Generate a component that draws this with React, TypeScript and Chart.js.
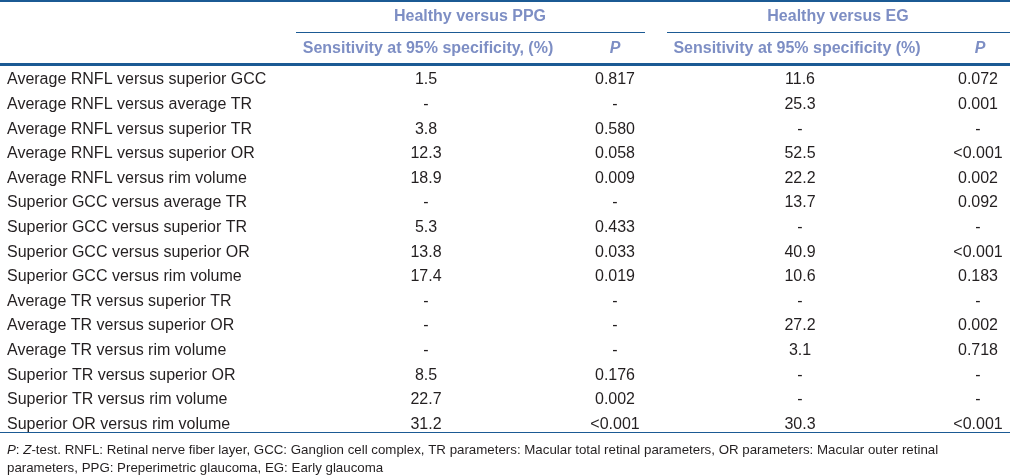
import React, { useEffect, useRef } from "react";
import { Chart, registerables } from "chart.js";

Chart.register(...registerables);

// ---------- data ----------
const rowLabels: string[] = [
  "Average RNFL versus superior GCC",
  "Average RNFL versus average TR",
  "Average RNFL versus superior TR",
  "Average RNFL versus superior OR",
  "Average RNFL versus rim volume",
  "Superior GCC versus average TR",
  "Superior GCC versus superior TR",
  "Superior GCC versus superior OR",
  "Superior GCC versus rim volume",
  "Average TR versus superior TR",
  "Average TR versus superior OR",
  "Average TR versus rim volume",
  "Superior TR versus superior OR",
  "Superior TR versus rim volume",
  "Superior OR versus rim volume",
];

const ppgSensitivity: (number | null)[] = [1.5, null, 3.8, 12.3, 18.9, null, 5.3, 13.8, 17.4, null, null, null, 8.5, 22.7, 31.2];
const ppgP: (string | null)[] = ["0.817", null, "0.580", "0.058", "0.009", null, "0.433", "0.033", "0.019", null, null, null, "0.176", "0.002", "<0.001"];
const egSensitivity: (number | null)[] = [11.6, 25.3, null, 52.5, 22.2, 13.7, null, 40.9, 10.6, null, 27.2, 3.1, null, null, 30.3];
const egP: (string | null)[] = ["0.072", "0.001", null, "<0.001", "0.002", "0.092", null, "<0.001", "0.183", null, "0.002", "0.718", null, null, "<0.001"];

const groupHeaders: string[] = ["Healthy versus PPG", "Healthy versus EG"];
const subHeaders: string[] = ["Sensitivity at 95% specificity, (%)", "P", "Sensitivity at 95% specificity (%)", "P"];

type Seg = { t: string; i?: boolean };
const footnoteLine1: Seg[] = [
  { t: "P", i: true },
  { t: ": " },
  { t: "Z", i: true },
  { t: "-test. RNFL: Retinal nerve fiber layer, GCC: Ganglion cell complex, TR parameters: Macular total retinal parameters, OR parameters: Macular outer retinal" },
];
const footnoteLine2: Seg[] = [{ t: "parameters, PPG: Preperimetric glaucoma, EG: Early glaucoma" }];

// ---------- layout / style ----------
const W = 1010;
const H = 476;
const LABEL_X = 7;
const COL_X = [426, 615, 800, 978];
const GROUP_X = [470, 838];
const SUB_X = [428, 615, 797, 980];
const GROUP_LINE = [
  [296, 645],
  [667, 1010],
];
const FONT = "'Liberation Sans', Arial, Helvetica, sans-serif";
const FS = 16;
const FOOT_FS = 13.3;
const TEXT = "#231f20";
const HEAD = "#7d8ec4";
const RULE = "#1b5a94";

const fmtSens = (v: number | null) => (v == null ? "-" : v.toFixed(1));
const fmtP = (v: string | null) => (v == null ? "-" : v);

const columns: { texts: string[]; x: number; align: CanvasTextAlign }[] = [
  { texts: rowLabels, x: LABEL_X, align: "left" },
  { texts: ppgSensitivity.map(fmtSens), x: COL_X[0], align: "center" },
  { texts: ppgP.map(fmtP), x: COL_X[1], align: "center" },
  { texts: egSensitivity.map(fmtSens), x: COL_X[2], align: "center" },
  { texts: egP.map(fmtP), x: COL_X[3], align: "center" },
];

const tablePlugin = {
  id: "tablePlugin",
  afterDatasetsDraw(chart: any) {
    const ctx: CanvasRenderingContext2D = chart.ctx;
    const yScale = chart.scales.y;
    const lastY = yScale.getPixelForValue(rowLabels.length - 1);
    ctx.save();

    // rules
    ctx.fillStyle = RULE;
    ctx.fillRect(0, 0, W, 2);
    GROUP_LINE.forEach(([a, b]) => ctx.fillRect(a, 32, b - a, 1));
    ctx.fillRect(0, 63, W, 3);
    ctx.fillRect(0, Math.round(lastY + 8), W, 1);

    // headers
    ctx.textBaseline = "middle";
    ctx.textAlign = "center";
    ctx.fillStyle = HEAD;
    ctx.font = `bold ${FS}px ${FONT}`;
    groupHeaders.forEach((t, i) => ctx.fillText(t, GROUP_X[i], 17));
    subHeaders.forEach((t, i) => {
      ctx.font = t === "P" ? `italic bold ${FS}px ${FONT}` : `bold ${FS}px ${FONT}`;
      ctx.fillText(t, SUB_X[i], 49);
    });

    // body cells from dataset elements
    ctx.fillStyle = TEXT;
    ctx.font = `${FS}px ${FONT}`;
    chart.data.datasets.forEach((ds: any, di: number) => {
      const meta = chart.getDatasetMeta(di);
      ctx.textAlign = columns[di].align;
      meta.data.forEach((el: any, i: number) => {
        ctx.fillText(ds.texts[i], el.x, el.y);
      });
    });

    // footnote
    ctx.textAlign = "left";
    const drawSegs = (segs: Seg[], y: number) => {
      let x = LABEL_X;
      segs.forEach((s) => {
        ctx.font = `${s.i ? "italic " : ""}${FOOT_FS}px ${FONT}`;
        ctx.fillText(s.t, x, y);
        x += ctx.measureText(s.t).width;
      });
    };
    drawSegs(footnoteLine1, lastY + 25.6);
    drawSegs(footnoteLine2, lastY + 43.6);
    ctx.restore();
  },
};

export default function App() {
  const ref = useRef<HTMLCanvasElement | null>(null);
  useEffect(() => {
    if (!ref.current) return;
    const chart = new Chart(ref.current, {
      type: "scatter",
      data: {
        datasets: columns.map((c) => ({
          label: "",
          texts: c.texts,
          data: c.texts.map((_, i) => ({ x: c.x, y: i })),
          pointRadius: 0,
          pointHoverRadius: 0,
          showLine: false,
        })) as any,
      },
      options: {
        animation: false,
        responsive: false,
        events: [],
        layout: { padding: { top: 67.7, bottom: 39.3, left: 0, right: 0 } },
        plugins: { legend: { display: false }, tooltip: { enabled: false } },
        scales: {
          x: { type: "linear", min: 0, max: W, display: false },
          y: { type: "category", labels: rowLabels, offset: true, display: false },
        },
      },
      plugins: [tablePlugin],
    });
    return () => chart.destroy();
  }, []);
  return (
    <div style={{ position: "absolute", left: 0, top: 0, width: W, height: H, background: "#fff" }}>
      <canvas ref={ref} width={W} height={H} style={{ display: "block", width: W, height: H }} />
    </div>
  );
}
